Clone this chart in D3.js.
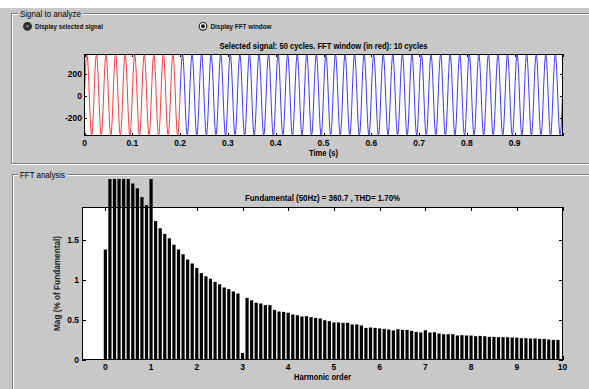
<!DOCTYPE html>
<html>
<head>
<meta charset="utf-8">
<script src="https://cdn.jsdelivr.net/npm/d3@7/dist/d3.min.js"></script>
<style>
  html, body { margin: 0; padding: 0; background: #fff; }
  svg { display: block; font-family: "Liberation Sans", Arial, sans-serif; }
</style>
</head>
<body>
<svg id="fig" width="589" height="389"></svg>
<script>
// ---- Signal: one sampled period (1 kHz sampling of a 50 Hz wave), repeated over the record
const cycleSamples = [11, 126, 230, 313, 366, 384, 366, 313, 230, 126,
                      11, -104, -208, -291, -344, -362, -344, -291, -208, -104];
const sampleTime = 0.001;      // s
const totalCycles = 50;
const fftCycles = 10;
const fundamentalHz = 50;

// ---- FFT magnitudes (% of fundamental), harmonic order 0 .. 9.9 step 0.1
const harmonicOrders = d3.range(0, 100).map(i => i / 10);
const magnitudes = [
  1.375, 2.9, 2.75, 2.6, 2.45, 2.32, 2.2, 2.14, 2.03, 1.93,
  100, 1.73, 1.64, 1.57, 1.515, 1.435, 1.375, 1.316, 1.25, 1.2,
  1.145, 1.08, 1.04, 1.01, 0.97, 0.94, 0.90, 0.88, 0.85, 0.825,
  0.083, 0.77, 0.74, 0.71, 0.70, 0.68, 0.68, 0.62, 0.60, 0.595,
  0.585, 0.563, 0.554, 0.538, 0.541, 0.529, 0.52, 0.513, 0.491, 0.479,
  0.463, 0.463, 0.458, 0.458, 0.438, 0.438, 0.425, 0.395, 0.40, 0.395,
  0.388, 0.383, 0.375, 0.363, 0.379, 0.37, 0.37, 0.358, 0.345, 0.338,
  0.366, 0.338, 0.341, 0.325, 0.316, 0.316, 0.316, 0.30, 0.304, 0.30,
  0.30, 0.291, 0.295, 0.291, 0.283, 0.283, 0.279, 0.279, 0.279, 0.275,
  0.273, 0.266, 0.266, 0.2625, 0.2625, 0.258, 0.258, 0.25, 0.245, 0.245
];

// ---- Tick labels
const timeTicks = [0, 0.1, 0.2, 0.3, 0.4, 0.5, 0.6, 0.7, 0.8, 0.9];
const signalTicks = [-200, 0, 200];
const orderTicks = [0, 1, 2, 3, 4, 5, 6, 7, 8, 9, 10];
const magTicks = [0, 0.5, 1, 1.5];

const svg = d3.select("#fig");
const W = 589, H = 389;
const panelGray = "#c8c8c8";

// Background: thin white strip on top, gray figure below
svg.append("rect").attr("x", 0).attr("y", 0).attr("width", W).attr("height", H).attr("fill", "#fff");
svg.append("rect").attr("x", 0).attr("y", 8).attr("width", W).attr("height", H - 8).attr("fill", panelGray);

// Etched panel frame (dark line + light line) with a title
function panel(x, y, bottom, title, titleLen) {
  const g = svg.append("g");
  const dark = "#808080", light = "#ffffff";
  g.append("line").attr("x1", x).attr("x2", W).attr("y1", y + 0.5).attr("y2", y + 0.5).attr("stroke", dark);
  g.append("line").attr("x1", x + 1).attr("x2", W).attr("y1", y + 1.5).attr("y2", y + 1.5).attr("stroke", light);
  g.append("line").attr("x1", x + 0.5).attr("x2", x + 0.5).attr("y1", y).attr("y2", bottom).attr("stroke", dark);
  g.append("line").attr("x1", x + 1.5).attr("x2", x + 1.5).attr("y1", y + 1).attr("y2", bottom).attr("stroke", light);
  if (bottom < H) {
    g.append("line").attr("x1", x).attr("x2", W).attr("y1", bottom - 0.5).attr("y2", bottom - 0.5).attr("stroke", dark);
    g.append("line").attr("x1", x).attr("x2", W).attr("y1", bottom + 0.5).attr("y2", bottom + 0.5).attr("stroke", light);
  }
  g.append("rect").attr("x", 18).attr("y", y - 4).attr("width", titleLen + 4).attr("height", 9).attr("fill", panelGray);
  g.append("text").attr("x", 20).attr("y", y + 3.5)
    .attr("font-size", 9).attr("fill", "#000")
    .attr("textLength", titleLen).attr("lengthAdjust", "spacingAndGlyphs")
    .text(title);
}
panel(11, 13, 164, "Signal to analyze", 61);
panel(12, 174, H, "FFT analysis", 45);

// Radio buttons
function radio(cx, cy, label, labelLen, selected) {
  svg.append("circle").attr("cx", cx).attr("cy", cy).attr("r", 3.8)
    .attr("fill", selected ? "#333" : "#fff").attr("stroke", "#222").attr("stroke-width", 1.2);
  svg.append("circle").attr("cx", cx).attr("cy", cy).attr("r", selected ? 1.4 : 2)
    .attr("fill", selected ? "#777" : "#111");
  svg.append("text").attr("x", cx + 7.5).attr("y", cy + 2.8)
    .attr("font-size", 8).attr("font-weight", "bold").attr("fill", "#111")
    .attr("textLength", labelLen).attr("lengthAdjust", "spacingAndGlyphs")
    .text(label);
}
radio(27.5, 26.3, "Display selected signal", 68, true);
radio(203, 26.3, "Display FFT window", 61, false);

// Axis helper: box with inward ticks on all four sides
function drawBox(x0, x1, y0, y1, xScale, xt, yScale, yt, tickLen) {
  const g = svg.append("g").attr("stroke", "#000").attr("fill", "none");
  g.append("rect").attr("x", x0 + 0.5).attr("y", y0 + 0.5)
    .attr("width", x1 - x0 - 1).attr("height", y1 - y0 - 1).attr("stroke-width", 1);
  xt.forEach(v => {
    const px = Math.round(xScale(v)) + 0.5;
    g.append("line").attr("x1", px).attr("x2", px).attr("y1", y1).attr("y2", y1 - tickLen);
    g.append("line").attr("x1", px).attr("x2", px).attr("y1", y0).attr("y2", y0 + tickLen);
  });
  yt.forEach(v => {
    const py = Math.round(yScale(v)) + 0.5;
    g.append("line").attr("x1", x0).attr("x2", x0 + tickLen).attr("y1", py).attr("y2", py);
    g.append("line").attr("x1", x1).attr("x2", x1 - tickLen).attr("y1", py).attr("y2", py);
  });
}

function label(x, y, txt, opts = {}) {
  const t = svg.append("text").attr("x", x).attr("y", y)
    .attr("font-size", opts.size || 8.5).attr("font-weight", "bold")
    .attr("fill", opts.color || "#000").attr("text-anchor", opts.anchor || "middle").text(txt);
  if (opts.len) t.attr("textLength", opts.len).attr("lengthAdjust", "spacingAndGlyphs");
  if (opts.rotate) t.attr("transform", `rotate(-90, ${x}, ${y})`);
  return t;
}

// ================= Top axes: time signal =================
const tL = 84, tR = 563, tT = 54, tB = 136;
const xT = d3.scaleLinear().domain([0, 1]).range([tL + 0.5, tR - 0.5]);
const yT = d3.scaleLinear().domain([-362, 384]).range([tB - 0.5, tT + 0.5]);

svg.append("rect").attr("x", tL).attr("y", tT).attr("width", tR - tL).attr("height", tB - tT).attr("fill", "#fff");

const signal = [];
for (let c = 0; c < totalCycles; c++) {
  cycleSamples.forEach((v, k) => {
    signal.push({ t: (c * cycleSamples.length + k) * sampleTime, v });
  });
}
signal.push({ t: totalCycles * cycleSamples.length * sampleTime, v: cycleSamples[0] });

const fftEnd = fftCycles / fundamentalHz;
const line = d3.line().x(d => xT(d.t)).y(d => yT(d.v));
const clipTop = svg.append("clipPath").attr("id", "clipTop");
clipTop.append("rect").attr("x", tL).attr("y", tT).attr("width", tR - tL).attr("height", tB - tT);
const sg = svg.append("g").attr("clip-path", "url(#clipTop)");
sg.append("path").datum(signal.filter(d => d.t >= fftEnd - 1e-9))
  .attr("d", line).attr("fill", "none").attr("stroke", "#2424ff").attr("stroke-width", 0.9);
sg.append("path").datum(signal.filter(d => d.t <= fftEnd + 1e-9))
  .attr("d", line).attr("fill", "none").attr("stroke", "#ff2424").attr("stroke-width", 0.9);

drawBox(tL, tR, tT, tB, xT, timeTicks.concat([1]), yT, signalTicks, 3);

timeTicks.forEach(v => label(xT(v), 146, d3.format("")(v)));
signalTicks.forEach(v => label(82, yT(v) + 3, String(v), { anchor: "end" }));
label((tL + tR) / 2, 49, "Selected signal: 50 cycles. FFT window (in red): 10 cycles", { len: 208 });
label((tL + tR) / 2, 156, "Time (s)", { len: 29 });

// ================= Bottom axes: FFT bars =================
const fL = 82, fR = 563, fT = 207, fB = 360;
const xF = d3.scaleLinear().domain([-0.5, 10]).range([fL + 0.5, fR - 0.5]);
const yF = d3.scaleLinear().domain([0, 1.9]).range([fB - 0.5, fT + 0.5]);

svg.append("rect").attr("x", fL).attr("y", fT).attr("width", fR - fL).attr("height", fB - fT).attr("fill", "#fff");

drawBox(fL, fR, fT, fB, xF, orderTicks, yF, magTicks, 4);

// Bars are clipped only by the panel's content area, not by the axes box
const clipFFT = svg.append("clipPath").attr("id", "clipFFT");
clipFFT.append("rect").attr("x", 0).attr("y", 179).attr("width", W).attr("height", fB - 179);
const barW = xF(0.07) - xF(0);
svg.append("g").attr("clip-path", "url(#clipFFT)")
  .selectAll("rect").data(harmonicOrders.map((h, i) => ({ h, m: magnitudes[i] })))
  .join("rect")
  .attr("x", d => xF(d.h) - barW / 2)
  .attr("y", d => yF(d.m))
  .attr("width", barW)
  .attr("height", d => yF(0) - yF(d.m))
  .attr("fill", "#000");

orderTicks.forEach(v => label(xF(v), 370, String(v)));
magTicks.forEach(v => label(79, yF(v) + 3, String(v), { anchor: "end" }));
label((fL + fR) / 2, 201, "Fundamental (50Hz) = 360.7 , THD= 1.70%", { len: 155 });
label((fL + fR) / 2, 380, "Harmonic order", { len: 57 });
label(60, (fT + fB) / 2, "Mag (% of Fundamental)", { len: 95, rotate: true, color: "#222" });
</script>
</body>
</html>
